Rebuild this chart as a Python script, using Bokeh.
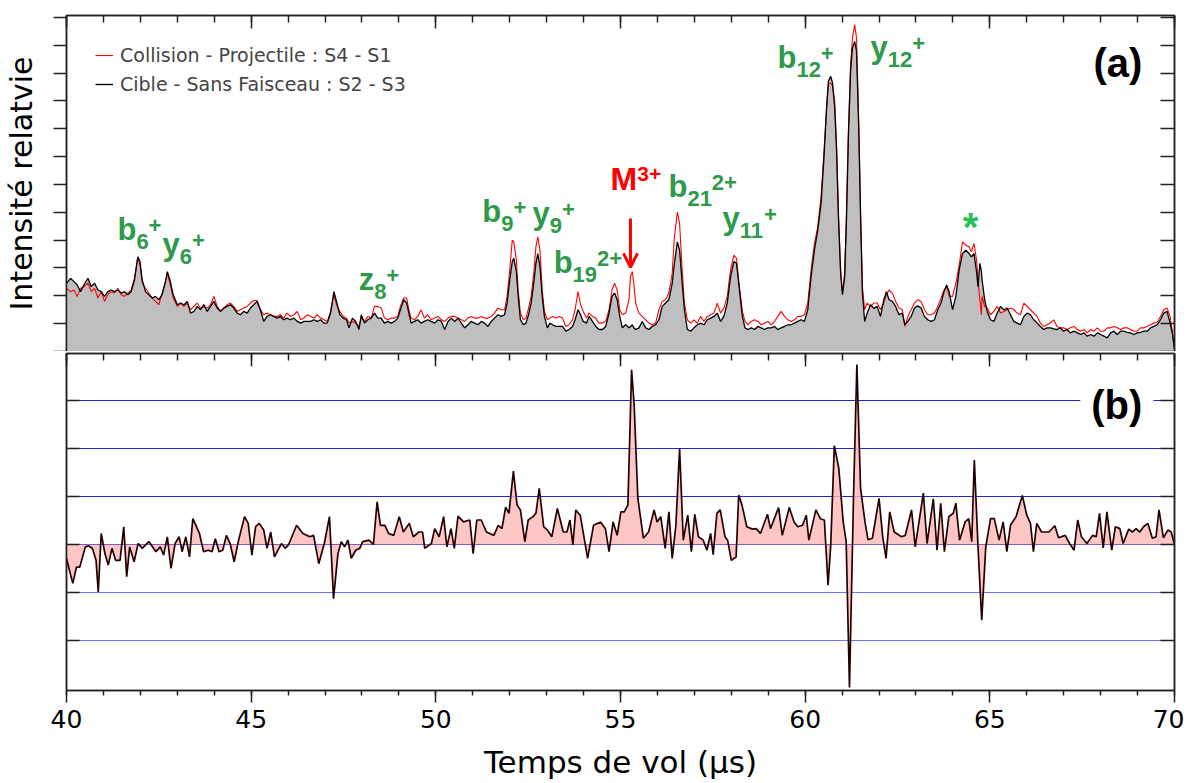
from bokeh.plotting import figure
from bokeh.layouts import column
from bokeh.models import (Range1d, LinearAxis, SingleIntervalTicker, FixedTicker, Span,
                          Label, Legend, LegendItem, Arrow, OpenHead)
from bokeh.embed import file_html
from bokeh.resources import INLINE

# ---------------- panel (a) : spectra ----------------
a_t = [
    40.00, 40.11, 40.20, 40.29, 40.38, 40.47, 40.58, 40.67, 40.76, 40.85,
    40.94, 41.03, 41.12, 41.21, 41.30, 41.39, 41.48, 41.57, 41.66, 41.75,
    41.84, 41.93, 41.99, 42.05, 42.14, 42.23, 42.32, 42.41, 42.50, 42.59,
    42.68, 42.73, 42.80, 42.89, 43.00, 43.09, 43.18, 43.27, 43.36, 43.45,
    43.54, 43.63, 43.72, 43.81, 43.90, 43.99, 44.08, 44.17, 44.26, 44.35,
    44.44, 44.53, 44.62, 44.71, 44.80, 44.89, 44.98, 45.07, 45.16, 45.25,
    45.34, 45.43, 45.52, 45.61, 45.70, 45.79, 45.88, 45.97, 46.06, 46.16,
    46.25, 46.34, 46.43, 46.52, 46.61, 46.70, 46.79, 46.88, 46.97, 47.06,
    47.15, 47.24, 47.31, 47.40, 47.49, 47.58, 47.65,
    47.74, 47.83, 47.92, 47.98, 48.07, 48.16, 48.25, 48.34, 48.43, 48.52,
    48.61, 48.70, 48.79, 48.88, 48.97, 49.04, 49.13, 49.21, 49.27, 49.33,
    49.42, 49.51, 49.60, 49.69, 49.78, 49.87, 49.97, 50.06, 50.15, 50.24,
    50.33, 50.42, 50.51, 50.60, 50.69, 50.78, 50.87, 50.96, 51.05, 51.14,
    51.23, 51.32, 51.41, 51.50, 51.59, 51.68, 51.77, 51.86, 51.93, 52.00,
    52.07, 52.11, 52.18, 52.23, 52.29, 52.37, 52.44, 52.51, 52.58, 52.65,
    52.71, 52.76, 52.82, 52.88, 52.94, 53.02, 53.09, 53.16, 53.25, 53.34,
    53.43, 53.52, 53.61, 53.70, 53.77, 53.85, 53.92, 53.99, 54.08, 54.15,
    54.24, 54.33, 54.42, 54.51, 54.60, 54.69, 54.77, 54.84, 54.91, 54.98,
    55.05, 55.14, 55.23, 55.27, 55.32, 55.36, 55.41, 55.50, 55.59, 55.68,
    55.77, 55.86, 55.95, 56.04, 56.13, 56.22, 56.31, 56.40, 56.46, 56.54,
    56.60, 56.67, 56.73, 56.81, 56.90, 56.99, 57.08, 57.17, 57.26, 57.35,
    57.44, 57.53, 57.62, 57.71, 57.80, 57.89, 57.98, 58.07, 58.14, 58.21,
    58.30, 58.37, 58.45, 58.54, 58.63, 58.72, 58.81, 58.90, 58.99, 59.08,
    59.17, 59.26, 59.35, 59.44, 59.53, 59.62, 59.71, 59.80, 59.89, 59.98,
    60.07, 60.16, 60.25, 60.34, 60.43, 60.51, 60.58, 60.63, 60.69, 60.74,
    60.80, 60.85, 60.90, 60.96, 61.01, 61.07, 61.12, 61.17, 61.23, 61.28,
    61.34, 61.39, 61.45, 61.50, 61.55, 61.61, 61.68, 61.77, 61.86, 61.95,
    62.04,
    62.13, 62.20, 62.27, 62.36, 62.45, 62.54, 62.63, 62.70, 62.78, 62.87,
    62.96, 63.05, 63.14, 63.23, 63.32, 63.41, 63.50, 63.59, 63.68, 63.76,
    63.83, 63.90, 63.99, 64.08, 64.17, 64.26, 64.35, 64.44, 64.50, 64.57,
    64.64, 64.68, 64.73, 64.77, 64.79, 64.86, 64.93, 65.02, 65.11, 65.20,
    65.29, 65.38, 65.47, 65.56, 65.65, 65.74, 65.83, 65.92, 66.01, 66.10,
    66.19, 66.28, 66.37, 66.46, 66.55, 66.64, 66.73, 66.82, 66.91, 67.00,
    67.09, 67.18, 67.28, 67.37, 67.46, 67.55, 67.64, 67.73, 67.82, 67.91,
    68.00, 68.09, 68.18, 68.27, 68.36, 68.45, 68.54, 68.63, 68.72, 68.81,
    68.90, 68.99, 69.08, 69.17, 69.26, 69.35, 69.44, 69.53, 69.62, 69.71,
    69.80, 69.88, 69.94, 70.00,
]

# Cible - Sans Faisceau : S2 - S3 (black)
a_black = [
    2.45, 2.63, 2.51, 2.39, 2.15, 2.39, 2.63, 2.33, 2.45, 2.21,
    2.15, 1.98, 2.15, 2.21, 2.15, 2.21, 2.10, 2.15, 2.04, 2.15,
    2.57, 3.40, 3.23, 2.57, 2.15, 2.04, 1.92, 1.98, 1.86, 2.04,
    2.51, 2.87, 2.57, 2.04, 1.68, 1.74, 1.68, 1.80, 1.38, 1.44,
    1.62, 1.50, 1.68, 1.44, 1.62, 1.80, 1.56, 1.44, 1.56, 1.62,
    1.68, 1.56, 1.38, 1.32, 1.44, 1.38, 1.56, 1.68, 1.80, 1.50,
    1.08, 1.26, 1.32, 1.26, 1.20, 1.26, 1.14, 1.20, 1.14, 1.20,
    1.08, 1.02, 1.08, 1.08, 1.08, 1.14, 1.08, 1.14, 1.02, 1.02,
    1.38, 2.15, 1.80, 1.32, 1.20, 1.14, 0.85,
    1.20, 1.08, 0.79, 1.32, 1.02, 1.14, 1.20, 1.38, 1.20, 1.20,
    1.02, 1.08, 1.02, 1.08, 1.20, 1.50, 1.86, 1.74, 1.38, 1.02,
    1.08, 1.14, 1.02, 1.08, 1.14, 1.08, 1.02, 1.14, 1.08, 0.79,
    1.08, 1.20, 1.08, 1.20, 1.02, 0.85, 0.96, 1.08, 1.02, 0.96,
    1.08, 1.02, 0.90, 1.08, 1.20, 1.32, 1.26, 1.32, 1.74, 2.57,
    3.23, 3.35, 2.87, 1.98, 1.14, 0.96, 1.02, 1.32, 1.74, 2.45,
    3.17, 3.52, 3.05, 1.98, 1.26, 0.85, 1.02, 0.96, 0.90, 0.90,
    0.90, 0.73, 0.79, 0.90, 1.14, 1.50, 1.32, 1.08, 1.02, 1.26,
    1.08, 0.90, 0.79, 0.79, 0.90, 1.38, 1.98, 2.10, 1.86, 1.26,
    0.85, 0.96, 0.85, 0.90, 0.96, 0.85, 0.79, 0.85, 1.08, 0.85,
    0.79, 0.90, 0.96, 1.14, 1.62, 1.74, 1.86, 2.45, 3.17, 3.94,
    3.64, 2.45, 1.50, 0.79, 0.73, 0.85, 0.96, 1.02, 0.96, 1.14,
    1.20, 1.26, 1.38, 1.08, 1.26, 1.74, 2.69, 3.23, 3.17, 2.33,
    1.26, 0.85, 0.79, 0.85, 0.79, 0.90, 0.85, 0.79, 0.85, 0.85,
    0.90, 0.79, 0.85, 0.90, 0.96, 0.96, 1.02, 1.08, 1.14, 1.08,
    1.50, 2.69, 3.64, 4.36, 5.31, 6.98, 8.76, 9.71, 9.89, 9.65,
    8.76, 7.21, 4.83, 2.81, 2.04, 2.69, 4.83, 7.69, 10.07, 10.90,
    11.14, 10.79, 8.05, 4.83, 2.10, 1.08, 1.38, 1.68, 1.55, 1.62,
    1.26,
    1.86, 2.15, 1.86, 1.80, 1.62, 1.32, 1.38, 0.96, 1.08, 1.26,
    1.56, 1.64, 1.56, 1.26, 1.14, 1.08, 1.14, 1.50, 1.74, 2.15,
    2.39, 2.15, 1.50, 1.98, 2.93, 3.52, 3.64, 3.52, 3.40, 3.52,
    2.87, 2.33, 3.17, 2.90, 2.57, 1.86, 1.44, 1.14, 1.08, 1.38,
    1.62, 1.50, 1.56, 1.32, 1.08, 1.02, 0.96, 1.26, 1.38, 1.32,
    1.14, 1.02, 0.90, 0.79, 0.85, 0.85, 0.81, 0.79, 0.85, 0.73,
    0.79, 0.67, 0.73, 0.67, 0.61, 0.67, 0.55, 0.61, 0.55, 0.67,
    0.61, 0.55, 0.49, 0.67, 0.73, 0.61, 0.73, 0.73, 0.69, 0.67,
    0.61, 0.67, 0.69, 0.73, 0.73, 0.85, 0.90, 0.96, 1.14, 1.38,
    1.44, 1.02, 0.67, 0.07,
]

# Collision - Projectile : S4 - S1 (red)
a_red = [
    2.27, 2.15, 2.21, 1.98, 2.27, 2.33, 2.45, 2.15, 2.27, 1.92,
    2.15, 1.80, 2.04, 2.15, 2.10, 2.27, 2.04, 1.98, 2.10, 2.21,
    2.63, 3.35, 3.12, 2.45, 2.27, 2.10, 1.92, 1.80, 1.68, 2.10,
    2.51, 2.81, 2.45, 1.92, 1.62, 1.74, 1.62, 1.74, 1.50, 1.62,
    1.74, 1.56, 1.62, 1.56, 1.68, 1.98, 1.62, 1.44, 1.56, 1.68,
    1.74, 1.62, 1.44, 1.50, 1.56, 1.62, 1.74, 1.83, 1.83, 1.50,
    1.32, 1.38, 1.32, 1.26, 1.26, 1.32, 1.20, 1.38, 1.26, 1.32,
    1.44, 1.14, 1.20, 1.32, 1.26, 1.20, 1.32, 1.20, 1.14, 1.08,
    1.44, 2.04, 1.68, 1.44, 1.26, 1.20, 1.02,
    1.08, 1.02, 0.90, 1.20, 1.08, 1.26, 1.20, 1.62, 1.62, 1.56,
    1.20, 1.14, 1.20, 1.20, 1.26, 1.62, 1.92, 1.92, 1.50, 1.20,
    1.14, 1.26, 1.50, 1.20, 1.32, 1.14, 1.20, 1.26, 1.14, 1.08,
    1.20, 1.26, 1.26, 1.20, 1.14, 1.08, 1.20, 1.26, 1.20, 1.20,
    1.26, 1.20, 1.20, 1.26, 1.38, 1.56, 1.50, 1.50, 1.98, 2.93,
    4.00, 3.94, 3.29, 2.21, 1.38, 1.14, 1.20, 1.56, 1.98, 2.81,
    3.76, 4.12, 3.64, 2.21, 1.44, 1.14, 1.20, 1.26, 1.20, 1.26,
    1.20, 0.90, 0.96, 1.14, 1.50, 2.15, 1.68, 1.44, 1.20, 1.38,
    1.26, 1.20, 1.02, 1.02, 1.08, 1.50, 2.21, 2.45, 2.21, 1.50,
    1.32, 1.38, 1.86, 2.69, 2.87, 2.45, 1.74, 1.38, 1.26, 1.14,
    1.02, 0.96, 1.02, 1.50, 1.80, 1.86, 2.10, 2.81, 4.12, 5.01,
    4.60, 2.93, 1.74, 1.14, 1.02, 1.14, 1.02, 1.26, 1.08, 1.26,
    1.32, 1.38, 1.74, 1.38, 1.56, 1.98, 2.93, 3.46, 3.35, 2.45,
    1.44, 1.08, 0.96, 1.08, 1.14, 1.08, 0.96, 1.02, 1.08, 0.96,
    1.08, 1.26, 1.44, 1.26, 1.14, 1.08, 1.14, 1.26, 1.26, 1.32,
    1.74, 2.93, 3.88, 4.48, 5.55, 7.21, 8.76, 9.60, 9.65, 9.54,
    9.00, 7.45, 5.07, 2.93, 2.10, 2.81, 5.07, 7.93, 10.31, 11.26,
    11.74, 11.26, 8.29, 5.07, 2.33, 1.50, 1.74, 1.62, 1.74, 1.74,
    1.50,
    1.74, 2.04, 2.21, 2.10, 1.80, 1.56, 1.50, 0.90, 1.26, 1.50,
    1.74, 1.86, 1.80, 1.50, 1.32, 1.32, 1.38, 1.62, 1.92, 2.21,
    2.33, 1.98, 1.98, 2.45, 3.10, 3.94, 3.82, 3.76, 3.58, 3.88,
    3.29, 2.57, 1.86, 1.32, 1.98, 1.62, 1.56, 1.32, 1.44, 1.62,
    1.38, 1.44, 1.50, 1.56, 1.50, 1.38, 1.32, 1.74, 1.62, 1.50,
    1.38, 1.26, 1.02, 0.90, 0.96, 1.02, 1.14, 0.90, 0.85, 0.85,
    0.79, 0.85, 0.90, 0.79, 0.73, 0.79, 0.67, 0.79, 0.73, 0.85,
    0.73, 0.73, 0.85, 0.85, 0.90, 0.85, 0.79, 0.85, 0.85, 0.79,
    0.73, 0.73, 0.85, 0.85, 0.90, 0.96, 1.02, 1.05, 1.26, 1.50,
    1.56, 1.26, 0.73, 0.07,
]

# ---------------- panel (b) : difference ----------------
b_t = [
    40.00, 40.17, 40.27, 40.36, 40.51, 40.60, 40.70, 40.80, 40.86, 40.94,
    41.04, 41.13, 41.23, 41.33, 41.45, 41.55, 41.63, 41.71, 41.83, 41.94,
    42.05, 42.23, 42.42, 42.54, 42.63, 42.73, 42.83, 42.94, 43.05, 43.13,
    43.23, 43.33, 43.42, 43.60, 43.71, 43.84, 43.94, 44.03, 44.13, 44.23,
    44.33, 44.43, 44.54, 44.66, 44.82, 44.92, 45.02, 45.12, 45.22, 45.34,
    45.43, 45.53, 45.63, 45.82, 45.92, 46.01, 46.23, 46.40, 46.59, 46.69,
    46.83, 46.98, 47.12, 47.23, 47.35, 47.44, 47.53, 47.62, 47.71, 47.83,
    47.94, 48.02, 48.19, 48.31, 48.41, 48.50, 48.62, 48.72, 48.86, 49.01,
    49.12, 49.28, 49.39, 49.54, 49.64, 49.70, 49.88, 49.97, 50.09, 50.21,
    50.30, 50.41, 50.50, 50.60, 50.75, 50.92, 51.01, 51.11, 51.23, 51.37,
    51.57, 51.69, 51.79, 51.89, 51.98, 52.10, 52.20, 52.29, 52.41, 52.50,
    52.63, 52.71, 52.80, 52.92, 53.02, 53.14, 53.29, 53.45, 53.55, 53.63,
    53.71, 53.79, 53.91, 54.11, 54.27, 54.46, 54.59, 54.69, 54.80,
    54.91, 55.01, 55.10, 55.20, 55.30, 55.37, 55.47, 55.62, 55.76, 55.91,
    55.99, 56.09, 56.21, 56.31, 56.40, 56.50, 56.60, 56.70, 56.82, 56.92,
    57.01, 57.11, 57.24, 57.34, 57.44, 57.51, 57.61, 57.70, 57.83, 57.90,
    58.00, 58.13, 58.20, 58.29, 58.42, 58.57, 58.67, 58.79, 58.98, 59.06,
    59.28, 59.38, 59.57, 59.70, 59.80, 59.93, 60.03, 60.10, 60.29, 60.42,
    60.52, 60.62, 60.69, 60.79, 60.91, 61.03, 61.11, 61.20, 61.31, 61.40,
    61.50, 61.62, 61.70, 61.82, 62.00, 62.10, 62.19, 62.29, 62.41, 62.61,
    62.71, 62.88, 62.98, 63.20, 63.30, 63.47, 63.57, 63.67, 63.77, 63.89,
    64.01, 64.08, 64.18, 64.33, 64.43, 64.51, 64.58, 64.68, 64.78, 64.89,
    65.02, 65.12, 65.25, 65.36, 65.46, 65.56, 65.71, 65.88, 66.00, 66.10,
    66.18, 66.27, 66.40, 66.60, 66.76, 66.86, 67.04, 67.16, 67.28, 67.38,
    67.48, 67.63, 67.78, 67.88, 67.97, 68.07, 68.17, 68.30, 68.40, 68.52,
    68.61, 68.76, 68.86, 68.96, 69.06, 69.16, 69.28, 69.40, 69.50, 69.58,
    69.70, 69.82, 69.91, 70.00,
]
b_v = [
    -0.29, -0.81, -0.47, -0.47, -0.05, -0.03, -0.08, -0.33, -0.99, 0.23,
    -0.19, -0.43, -0.08, -0.33, -0.33, 0.37, -0.67, -0.05, -0.36, 0.02,
    -0.08, 0.06, -0.15, -0.05, -0.22, 0.16, -0.50, 0.02, 0.16, -0.15,
    0.16, -0.26, 0.54, 0.23, -0.15, -0.12, -0.15, 0.12, -0.15, -0.12,
    0.19, 0.02, -0.36, 0.09, 0.58, 0.44, -0.22, 0.37, 0.44, 0.30,
    -0.08, 0.26, -0.26, 0.02, -0.08, -0.01, 0.40, 0.23, 0.16, 0.19,
    -0.40, 0.02, 0.58, -1.13, -0.19, 0.06, -0.05, 0.09, -0.29, -0.12,
    -0.08, 0.06, 0.09, 0.00, 0.89, 0.40, 0.40, 0.23, 0.19, 0.58,
    0.26, 0.44, 0.16, 0.26, 0.26, -0.08, 0.02, 0.33, 0.16, 0.58,
    -0.05, 0.33, -0.08, 0.59, 0.47, 0.51, -0.19, 0.51, 0.51, 0.26,
    0.19, 0.40, 0.33, 0.78, 0.65, 1.53, 0.82, 0.72, 0.06, 0.51,
    0.58, 0.65, 1.17, 0.37, 0.30, 0.16, 0.75, 0.26, 0.26, 0.51,
    -0.01, 0.72, 0.61, -0.29, 0.40, 0.47, 0.33, -0.15, 0.47,
    0.19, 0.68, 0.68, 0.82, 3.64, 2.91, 0.96, 0.13, 0.26, 0.72,
    0.47, 0.58, -0.08, 0.68, -0.29, 0.40, 2.00, 0.09, 0.61, -0.15,
    0.63, 0.16, 0.09, -0.12, 0.23, -0.21, 0.65, 0.72, 0.16, 0.09,
    -0.33, -0.26, 1.03, 0.82, 0.37, 0.32, 0.33, 0.23, 0.63, 0.33,
    0.77, 0.19, 0.77, 0.47, 0.37, 0.40, 0.61, 0.09, 0.72, 0.53,
    0.51, -0.85, -0.05, 2.06, 1.59, 0.47, 0.06, -2.98, 1.03, 3.75,
    1.17, 0.47, 0.10, 0.13, 0.96, 0.16, -0.29, 0.68, 0.26, 0.16,
    0.19, 0.72, -0.05, 1.07, 0.02, 0.95, -0.12, 0.86, -0.15, 0.58,
    0.65, 0.86, 0.09, 0.47, 0.54, 0.06, 1.76, -0.05, -1.58, -0.05,
    0.54, 0.54, 0.09, 0.47, -0.15, 0.40, 0.58, 1.02, 0.61, 0.44,
    -0.15, 0.44, 0.26, 0.26, 0.39, 0.14, 0.19, 0.02, -0.12, 0.51,
    0.16, 0.02, 0.19, 0.16, 0.65, -0.07, 0.68, -0.12, 0.37, 0.33,
    0.02, 0.32, 0.26, 0.33, 0.26, 0.37, 0.44, 0.13, 0.16, 0.72,
    0.14, 0.30, 0.26, 0.00,
]

assert len(a_t) == len(a_black) == len(a_red), (len(a_t), len(a_black), len(a_red))
assert len(b_t) == len(b_v), (len(b_t), len(b_v))

x_major_ticks_interval = 5
b_grid_levels = [3, 2, 1, 0, -1, -2]

# ion annotations (text pieces, anchor in data coordinates)
ion_main = ["b", "y", "z", "b", "y", "b", "b", "y", "b", "y"]
ion_sub = ["6", "6", "8", "9", "9", "19", "21", "11", "12", "12"]
ion_sup = ["+", "+", "+", "+", "+", "2+", "2+", "+", "+", "+"]
ion_x = [41.38, 42.60, 47.91, 51.26, 52.62, 53.19, 56.30, 57.76, 59.25, 61.77]
ion_y = [3.99, 3.45, 2.19, 4.63, 4.56, 2.80, 5.53, 4.38, 10.17, 10.52]

AX = "#222222"
GREEN = "#2e9a4a"
FONT = "DejaVu Sans"
BFONT = "Liberation Sans"
K = 0.36  # compensation of the text baseline drop (fraction of font size)


def style_axis(ax, tin, tout, minin=0, minout=0, labels=False):
    ax.axis_line_color = AX
    ax.axis_line_width = 1.5
    ax.major_tick_line_color = AX
    ax.major_tick_line_width = 1.5
    ax.major_tick_in = tin
    ax.major_tick_out = tout
    if minin or minout:
        ax.minor_tick_line_color = AX
        ax.minor_tick_line_width = 1.5
        ax.minor_tick_in = minin
        ax.minor_tick_out = minout
    else:
        ax.minor_tick_line_color = None
    if not labels:
        ax.major_label_text_font_size = "0px"
        ax.major_label_text_color = None
        ax.major_label_standoff = 0


def txt(p, x, y, text, size, color, dx=0, dy=0, align="left", font=BFONT, **kw):
    p.add_layout(Label(x=x, y=y, x_offset=dx, y_offset=dy + K * size, text=text,
                       text_font=font, text_font_size=f"{size}px", text_font_style="bold",
                       text_color=color, text_align=align, text_baseline="alphabetic", **kw))


# ======================= figure (a) =======================
pa = figure(width=1184, height=351, x_range=Range1d(40, 70), y_range=Range1d(0, 12.07),
            x_axis_location="above", output_backend="svg", toolbar_location=None,
            min_border_left=66, min_border_right=10, min_border_top=15, min_border_bottom=0)
pa.grid.visible = False
pa.outline_line_color = AX
pa.outline_line_width = 1.5

pa.xaxis.ticker = SingleIntervalTicker(interval=x_major_ticks_interval, num_minor_ticks=5)
style_axis(pa.xaxis[0], 13, 0, 7, 0)
pa.yaxis.ticker = SingleIntervalTicker(interval=1, num_minor_ticks=0)
style_axis(pa.yaxis[0], 0, 13)
pa.yaxis.axis_label = "Intensité relatvie"
pa.yaxis.axis_label_text_font = FONT
pa.yaxis.axis_label_text_font_size = "30px"
pa.yaxis.axis_label_text_font_style = "normal"
pa.yaxis.axis_label_text_color = "black"
pa.yaxis.axis_label_standoff = 15

ra = LinearAxis(ticker=SingleIntervalTicker(interval=1, num_minor_ticks=0))
style_axis(ra, 14, 0)
pa.add_layout(ra, "right")

pa.varea(x=a_t, y1=0, y2=a_black, fill_color="#bfbfbf")
r_red = pa.line(a_t, a_red, line_color="#ff0000", line_width=1.1)
r_blk = pa.line(a_t, a_black, line_color="black", line_width=1.3)

legend = Legend(items=[LegendItem(label="Collision - Projectile : S4 - S1", renderers=[r_red]),
                       LegendItem(label="Cible - Sans Faisceau : S2 - S3", renderers=[r_blk])],
                location=(29, 256), label_text_font=FONT, label_text_font_size="19px",
                glyph_width=18, glyph_height=20, label_height=20, label_standoff=7,
                spacing=7, padding=0, margin=0, border_line_alpha=0, background_fill_alpha=0)
pa.add_layout(legend)

main_w = {"b": 0.611 * 31, "y": 0.556 * 31, "z": 0.5 * 31}
for m, s, sp, x, y in zip(ion_main, ion_sub, ion_sup, ion_x, ion_y):
    txt(pa, x, y, m, 31, GREEN)
    txt(pa, x, y, s, 22, GREEN, dx=main_w[m], dy=-9)
    txt(pa, x, y, sp, 22, GREEN, dx=main_w[m] + 12.2 * len(s), dy=7)

# M3+ (red) with arrow
txt(pa, 54.73, 5.78, "M", 32, "#ff0000")
txt(pa, 54.73, 5.78, "3+", 21, "#ff0000", dx=26.7, dy=9)
pa.add_layout(Arrow(end=OpenHead(size=14, line_color="#ff0000", line_width=3),
                    x_start=55.27, y_start=4.78, x_end=55.27, y_end=3.02,
                    line_color="#ff0000", line_width=3))

txt(pa, 64.48, 3.95, "*", 40, "#27bf57", align="center")
txt(pa, 69.13, 9.84, "(a)", 40, "black", align="right")

# ======================= figure (b) =======================
pb = figure(width=1184, height=432, x_range=Range1d(40, 70), y_range=Range1d(-3.042, 3.979),
            output_backend="svg", toolbar_location=None,
            min_border_left=66, min_border_right=10, min_border_top=2, min_border_bottom=93)
pb.grid.visible = False
pb.outline_line_color = AX
pb.outline_line_width = 1.5

pb.xaxis.ticker = SingleIntervalTicker(interval=x_major_ticks_interval, num_minor_ticks=5)
style_axis(pb.xaxis[0], 0, 12, 0, 5, labels=True)
pb.xaxis.major_label_text_font = FONT
pb.xaxis.major_label_text_font_size = "25px"
pb.xaxis.major_label_text_color = "black"
pb.xaxis.major_label_standoff = 7
pb.xaxis.axis_label = "Temps de vol (µs)"
pb.xaxis.axis_label_text_font = FONT
pb.xaxis.axis_label_text_font_size = "31px"
pb.xaxis.axis_label_text_font_style = "normal"
pb.xaxis.axis_label_text_color = "black"
pb.xaxis.axis_label_text_line_height = 1.0
pb.xaxis.axis_label_standoff = 13

tb = LinearAxis(ticker=SingleIntervalTicker(interval=x_major_ticks_interval, num_minor_ticks=5))
style_axis(tb, 13, 0, 7, 0)
pb.add_layout(tb, "above")

pb.yaxis.ticker = FixedTicker(ticks=b_grid_levels)
style_axis(pb.yaxis[0], 13, 0)
rb = LinearAxis(ticker=FixedTicker(ticks=b_grid_levels))
style_axis(rb, 14, 0)
pb.add_layout(rb, "right")

for lv in b_grid_levels:
    col = "#2222e0" if lv >= 0 else "#7272f0"
    pb.add_layout(Span(location=lv, dimension="width", line_color=col, line_width=1.2,
                       level="underlay"))

pb.varea(x=b_t, y1=0, y2=b_v, fill_color="#ffb8b8", fill_alpha=0.8)
pb.line(b_t, b_v, line_color="#240000", line_width=1.7)

txt(pb, 69.13, 2.61, "(b)", 40, "black", dx=11, align="right",
    background_fill_color="white", padding=11)

layout = column(pa, pb, spacing=0)
open("out.html", "w").write(file_html(layout, INLINE))
